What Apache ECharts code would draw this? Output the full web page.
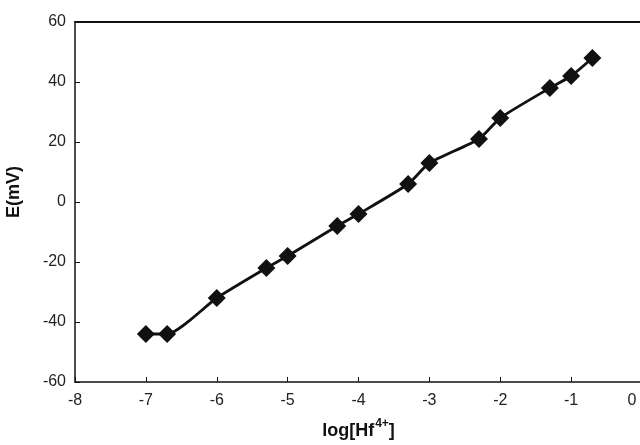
<!DOCTYPE html>
<html>
<head>
<meta charset="utf-8">
<script src="https://cdn.jsdelivr.net/npm/echarts@6/dist/echarts.min.js"></script>
<style>
  html, body { margin: 0; padding: 0; background: #fff; }
  #chart { width: 640px; height: 445px; }
</style>
</head>
<body>
<div id="chart"></div>
<script>
// log of Hf4+ concentration and measured potential
const logConc = [-7, -6.7, -6, -5.3, -5, -4.3, -4, -3.3, -3, -2.3, -2, -1.3, -1, -0.7]
const potential = [-44, -44, -32, -22, -18, -8, -4, 6, 13, 21, 28, 38, 42, 48]
const xRange = [-8, 0]
const yRange = [-60, 60]

const points = logConc.map((x, i) => [x, potential[i]])

let myChart = echarts.init(document.getElementById('chart'))
myChart.setOption({
  animation: false,
  grid: {
    left: 75,
    right: -2,
    top: 22,
    bottom: 63,
    containLabel: false,
    outerBoundsMode: 'none'
  },
  xAxis: [
    {
      type: 'value',
      min: xRange[0],
      max: xRange[1],
      interval: 1,
      name: '{b|log[Hf}{s|4+}{b|]}',
      nameLocation: 'middle',
      nameGap: 36,
      nameTextStyle: {
        rich: {
          b: { fontFamily: 'Liberation Sans', fontSize: 18, fontWeight: 'bold', color: '#111' },
          s: { fontFamily: 'Liberation Sans', fontSize: 12, fontWeight: 'bold', color: '#111', padding: [0, 0, 14, 1] }
        }
      },
      splitLine: { show: false },
      axisLine: { onZero: false, lineStyle: { color: '#111', width: 1.5 } },
      axisTick: { inside: true, length: 5, lineStyle: { color: '#111' } },
      axisLabel: {
        color: '#222',
        fontFamily: 'Liberation Sans',
        fontSize: 16,
        margin: 11,
        formatter: (v) => v === 0 ? '{z|0}' : String(v),
        rich: { z: { fontFamily: 'Liberation Sans', fontSize: 16, color: '#222', padding: [0, 20, 0, 0] } }
      }
    },
    {
      // top border of the frame
      type: 'value',
      position: 'top',
      min: xRange[0],
      max: xRange[1],
      splitLine: { show: false },
      axisLine: { show: true, onZero: false, lineStyle: { color: '#111', width: 2 } },
      axisTick: { show: false },
      axisLabel: { show: false }
    }
  ],
  yAxis: {
    type: 'value',
    min: yRange[0],
    max: yRange[1],
    interval: 20,
    name: 'E(mV)',
    nameLocation: 'middle',
    nameGap: 52,
    nameTextStyle: {
      fontFamily: 'Liberation Sans',
      fontSize: 18,
      fontWeight: 'bold',
      color: '#111',
      padding: [0, 0, 0, 20]
    },
    splitLine: { show: false },
    axisLine: { show: true, onZero: false, lineStyle: { color: '#111', width: 1.5 } },
    axisTick: { inside: true, length: 5, lineStyle: { color: '#111' } },
    axisLabel: {
      color: '#222',
      fontFamily: 'Liberation Sans',
      fontSize: 16,
      margin: 9
    }
  },
  series: [
    {
      type: 'line',
      data: points,
      smooth: 0.2,
      symbol: 'diamond',
      symbolSize: 18,
      lineStyle: { color: '#111', width: 2.8 },
      itemStyle: { color: '#111' }
    }
  ]
})
</script>
</body>
</html>
